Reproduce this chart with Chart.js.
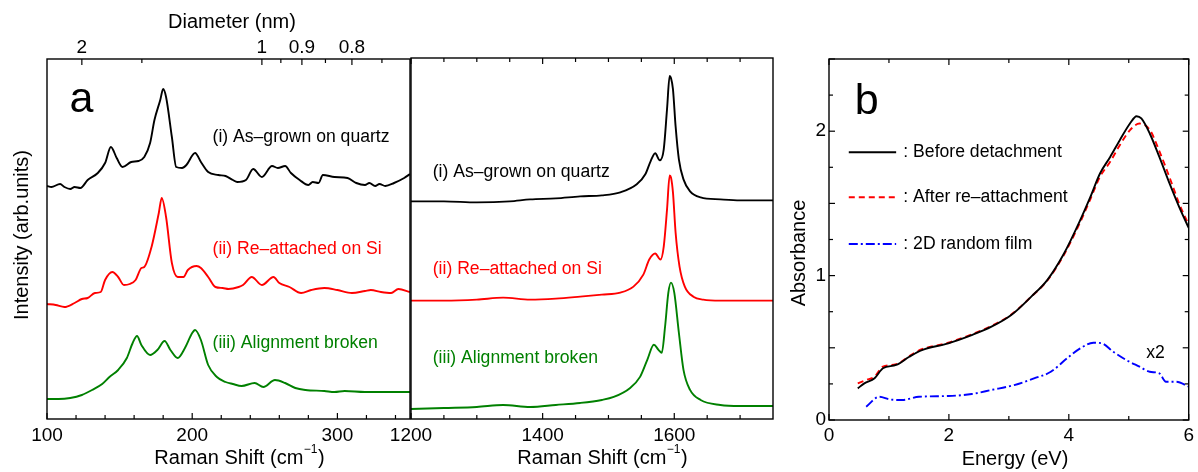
<!DOCTYPE html>
<html>
<head>
<meta charset="utf-8">
<script src="https://cdn.jsdelivr.net/npm/chart.js@4.4.1/dist/chart.umd.min.js"></script>
<style>
  html, body { margin: 0; padding: 0; background: #fff; }
  #fig { position: relative; width: 1198px; height: 472px; overflow: hidden; }
  canvas { position: absolute; top: 0; }
</style>
</head>
<body>
<div id="fig">
  <canvas id="ramanLow" width="412" height="472" style="left:0"></canvas>
  <canvas id="ramanHigh" width="430" height="472" style="left:370px"></canvas>
  <canvas id="absorb" width="418" height="472" style="left:780px"></canvas>
</div>
<script>
const FONT = '"Liberation Sans", Arial, Helvetica, sans-serif';
const BLACK = '#000000', RED = '#ff0000', GREEN = '#008000', BLUE = '#0000ff';

// RBM region, Raman shift (cm-1) and intensity (arb. units)
const rbmShiftAsGrown = [100,103,109,112,116,119,123,128,135,140,144,148,152,158,163,167,171,174,178,180,182,186,189,193,196,202,206,211,218,223,228,231,237,242,248,255,259,264,268,274,280,283,287,290,298,307,313,319,322,326,329,333,339,346,350];
const rbmAsGrown      = [233,232,235,232,230,232,231,239,246,256,272,261,252,257,258,262,276,299,319,330,322,282,252,251,254,266,257,247,244,243,239,237,239,250,242,253,251,253,246,239,234,237,236,244,242,241,236,234,236,233,235,233,236,241,245,241];

const rbmShiftReattached = [100,106,112,119,124,128,133,137,140,145,149,153,157,161,165,167,172,177,179,182,186,190,194,197,203,206,211,216,221,225,232,235,241,248,256,260,267,275,282,291,300,310,319,323,330,337,342,350];
const rbmReattached      = [115,114,112,116,120,121,126,127,139,147,142,134,135,139,151,152,172,206,221,202,156,142,142,149,153,151,142,132,131,130,132,134,142,134,142,136,132,126,129,131,129,126,128,129,127,126,130,127];

const rbmShiftBroken = [100,108,116,124,131,138,143,149,155,159,162,165,171,176,181,185,190,195,200,202,206,211,217,223,228,234,243,249,257,264,271,278,291,298,305,319,333,350];
const rbmBroken      = [20,20,21,24,29,35,42,49,61,76,83,74,64,69,78,69,61,71,86,89,79,54,42,37,35,33,36,32,39,36,31,29,28,27,28,27,27,27];

// G band region
const gShiftAsGrown = [1200,1250,1300,1350,1381,1420,1457,1490,1518,1543,1556,1564,1571,1578,1584,1589,1593,1595,1598,1602,1607,1614,1624,1640,1670,1700,1750];
const gAsGrown      = [217,217,216,217,219,220,222,223,226,234,244,257,265,258,269,309,342,340,329,292,259,239,227,221,219,218,218];

const gShiftReattached = [1200,1250,1300,1340,1381,1420,1457,1490,1518,1538,1553,1562,1571,1579,1584,1589,1593,1595,1598,1602,1608,1616,1629,1644,1670,1700,1750];
const gReattached      = [118,118,119,121,119,120,122,124,126,132,144,159,165,159,172,209,243,241,226,186,152,132,122,119,118,118,118];

const gShiftBroken = [1200,1250,1300,1340,1381,1420,1457,1490,1508,1533,1548,1559,1569,1576,1581,1586,1591,1595,1600,1607,1614,1624,1640,1670,1700,1750];
const gBroken      = [10,11,12,14,12,14,16,19,22,31,42,59,74,69,66,92,126,136,126,86,49,29,19,14,13,13];

// Absorbance spectra, energy (eV)
const energyBefore = [0.48,0.59,0.76,0.90,1.12,1.34,1.55,1.99,2.38,2.71,3.04,3.37,3.64,3.92,4.19,4.36,4.52,4.69,4.85,5.02,5.13,5.21,5.35,5.51,5.68,5.84,6.0];
const absBefore    = [0.219,0.254,0.289,0.358,0.381,0.438,0.484,0.531,0.588,0.646,0.727,0.853,0.969,1.153,1.384,1.545,1.707,1.822,1.938,2.053,2.104,2.088,1.984,1.822,1.638,1.476,1.33];

const energyAfter = [0.48,0.62,0.76,0.90,1.12,1.34,1.55,1.99,2.38,2.71,3.04,3.37,3.64,3.92,4.19,4.36,4.52,4.69,4.85,5.02,5.18,5.35,5.51,5.68,5.84,6.0];
const absAfter    = [0.254,0.277,0.30,0.37,0.386,0.443,0.49,0.535,0.593,0.651,0.73,0.853,0.965,1.145,1.37,1.53,1.684,1.788,1.903,2.007,2.053,2.01,1.862,1.68,1.50,1.35];

const energyRandom = [0.62,0.84,1.01,1.22,1.50,1.99,2.38,2.71,3.09,3.42,3.70,3.97,4.19,4.41,4.55,4.74,4.96,5.18,5.35,5.51,5.62,5.79,6.0];
const absRandom    = [0.092,0.161,0.143,0.138,0.161,0.166,0.180,0.208,0.242,0.288,0.334,0.427,0.496,0.535,0.531,0.473,0.415,0.369,0.334,0.323,0.265,0.265,0.231];

// Tick values
const rbmMajor = [100, 200, 300];
const rbmMinor = [120,140,160,180,220,240,260,280,320,340];
const gMajor = [1200, 1400, 1600];
const gMinor = [1250,1300,1350,1450,1500,1550,1650,1700];
const diameterMajor = [2, 1, 0.9, 0.8];
const diameterMinor = [1.5, 0.95, 0.85, 0.75];
const RBM_CONST = 248; // omega (cm-1) = 248 / d (nm)
const energyMajor = [0, 2, 4, 6];
const energyMinor = [1, 3, 5];
const absMajor = [0, 1, 2];
const absTicks = [0.5, 1.5, 2.5];
const absMinor = [0.25, 0.75, 1.25, 1.75, 2.25];

const tickFont = { family: FONT, size: 19 };

function pts(xs, ys) { return xs.map((x, i) => ({ x, y: ys[i] })); }

function series(xs, ys, color, extra) {
  return Object.assign({
    data: pts(xs, ys), borderColor: color, borderWidth: 1.9, pointRadius: 0,
    fill: false, tension: 0.3, cubicInterpolationMode: 'monotone'
  }, extra || {});
}

function axisX(min, max, labelTicks, height, padding, position, labelFn) {
  return {
    type: 'linear', position: position || 'bottom', min, max,
    grid: { display: false, drawTicks: false },
    border: { display: false },
    ticks: { font: tickFont, color: BLACK, padding, autoSkip: false, maxRotation: 0,
             callback: labelFn || (v => String(v)) },
    afterBuildTicks: s => { s.ticks = labelTicks.map(v => ({ value: v })); },
    afterFit: s => { s.height = height; }
  };
}

function axisY(min, max, width, labelTicks, padding) {
  const ax = {
    type: 'linear', min, max,
    grid: { display: false, drawTicks: false },
    border: { display: false },
    ticks: labelTicks ? { font: tickFont, color: BLACK, padding, autoSkip: false } : { display: false },
    afterFit: s => { s.width = width; }
  };
  if (labelTicks) ax.afterBuildTicks = s => { s.ticks = labelTicks.map(v => ({ value: v })); };
  return ax;
}

// frame around the plot area plus inward tick marks
const framePlugin = {
  id: 'frame',
  afterDatasetsDraw(chart, args, opts) {
    const { ctx, chartArea: a, scales } = chart;
    ctx.save();
    ctx.strokeStyle = BLACK;
    ctx.lineWidth = 1.4;
    ctx.strokeRect(a.left, a.top, a.right - a.left, a.bottom - a.top);
    ctx.lineWidth = 1.2;
    const draw = (side, values, len) => {
      (values || []).forEach(v => {
        ctx.beginPath();
        if (side === 'bottom' || side === 'top') {
          const px = scales.x.getPixelForValue(v);
          const y0 = side === 'bottom' ? a.bottom : a.top;
          ctx.moveTo(px, y0);
          ctx.lineTo(px, side === 'bottom' ? y0 - len : y0 + len);
        } else {
          const py = scales.y.getPixelForValue(v);
          const x0 = side === 'left' ? a.left : a.right;
          ctx.moveTo(x0, py);
          ctx.lineTo(side === 'left' ? x0 + len : x0 - len, py);
        }
        ctx.stroke();
      });
    };
    ['bottom', 'top', 'left', 'right'].forEach(side => {
      const t = opts[side];
      if (!t) return;
      draw(side, t.major, 6);
      draw(side, t.minor, 4);
    });
    ctx.restore();
  }
};

// titles (canvas pixels) and annotations (data coordinates)
const textPlugin = {
  id: 'texts',
  afterDraw(chart, args, opts) {
    const { ctx, scales } = chart;
    ctx.save();
    (opts.titles || []).forEach(t => {
      ctx.save();
      ctx.fillStyle = BLACK;
      ctx.textBaseline = 'middle';
      ctx.translate(t.x, t.y);
      if (t.rotate) ctx.rotate(t.rotate);
      ctx.font = `${t.size}px ${FONT}`;
      const w1 = ctx.measureText(t.text).width;
      let w2 = 0, w3 = 0;
      if (t.sup) {
        w3 = ctx.measureText(t.after).width;
        ctx.font = `${t.supSize}px ${FONT}`;
        w2 = ctx.measureText(t.sup).width;
      }
      let x = -(w1 + w2 + w3) / 2;
      ctx.textAlign = 'left';
      ctx.font = `${t.size}px ${FONT}`;
      ctx.fillText(t.text, x, 0);
      if (t.sup) {
        x += w1;
        ctx.font = `${t.supSize}px ${FONT}`;
        ctx.fillText(t.sup, x + 0.5, -t.size * 0.42);
        x += w2 + 1;
        ctx.font = `${t.size}px ${FONT}`;
        ctx.fillText(t.after, x, 0);
      }
      ctx.restore();
    });
    (opts.labels || []).forEach(l => {
      ctx.fillStyle = l.color || BLACK;
      ctx.font = `${l.size}px ${FONT}`;
      ctx.textAlign = 'left';
      ctx.textBaseline = l.baseline || 'middle';
      ctx.fillText(l.text, scales.x.getPixelForValue(l.x), scales.y.getPixelForValue(l.y));
    });
    (opts.legend || []).forEach(g => {
      const y = scales.y.getPixelForValue(g.y);
      ctx.strokeStyle = g.color;
      ctx.lineWidth = 2;
      ctx.setLineDash(g.dash || []);
      ctx.beginPath();
      ctx.moveTo(scales.x.getPixelForValue(g.x0), y);
      ctx.lineTo(scales.x.getPixelForValue(g.x1), y);
      ctx.stroke();
      ctx.setLineDash([]);
      ctx.fillStyle = BLACK;
      ctx.font = `${g.size}px ${FONT}`;
      ctx.textAlign = 'left';
      ctx.textBaseline = 'middle';
      ctx.fillText(g.text, scales.x.getPixelForValue(g.tx), y);
    });
    ctx.restore();
  }
};

const common = {
  responsive: false,
  animation: false,
  events: [],
  elements: { point: { radius: 0 } }
};

// Panel a, RBM region
new Chart(document.getElementById('ramanLow'), {
  type: 'line',
  data: { datasets: [
    series(rbmShiftAsGrown, rbmAsGrown, BLACK),
    series(rbmShiftReattached, rbmReattached, RED),
    series(rbmShiftBroken, rbmBroken, GREEN)
  ] },
  options: Object.assign({}, common, {
    layout: { padding: { top: 0, right: 2, bottom: 0, left: 0 } },
    scales: {
      x: axisX(100, 350, rbmMajor, 53, 5),
      xTop: axisX(100, 350, diameterMajor.map(d => RBM_CONST / d), 59, 0, 'top',
                  (v, i) => String(diameterMajor[i])),
      y: axisY(0, 360, 47)
    },
    plugins: {
      legend: { display: false }, tooltip: { enabled: false },
      frame: {
        bottom: { major: rbmMajor, minor: rbmMinor },
        top: { major: diameterMajor.map(d => RBM_CONST / d), minor: diameterMinor.map(d => RBM_CONST / d) }
      },
      texts: {
        titles: [
          { text: 'Diameter (nm)', x: 232, y: 22, size: 20 },
          { text: 'Intensity (arb.units)', x: 22, y: 235, size: 20, rotate: -Math.PI / 2 },
          { text: 'Raman Shift (cm', sup: '\u22121', after: ')', supSize: 12, x: 239, y: 458, size: 20 }
        ],
        labels: [
          { text: 'a', x: 115.5, y: 307, size: 43, baseline: 'alphabetic' },
          { text: '(i) As\u2013grown on quartz', x: 214, y: 282, size: 17.6, color: BLACK },
          { text: '(ii) Re\u2013attached on Si', x: 214, y: 170, size: 17.6, color: RED },
          { text: '(iii) Alignment broken', x: 214, y: 76, size: 17.6, color: GREEN }
        ]
      }
    }
  }),
  plugins: [framePlugin, textPlugin]
});

// Panel a, G band region
new Chart(document.getElementById('ramanHigh'), {
  type: 'line',
  data: { datasets: [
    series(gShiftAsGrown, gAsGrown, BLACK),
    series(gShiftReattached, gReattached, RED),
    series(gShiftBroken, gBroken, GREEN)
  ] },
  options: Object.assign({}, common, {
    layout: { padding: { top: 58, right: 27, bottom: 0, left: 0 } },
    scales: {
      x: axisX(1200, 1750, gMajor, 53, 5),
      y: axisY(0, 360, 41)
    },
    plugins: {
      legend: { display: false }, tooltip: { enabled: false },
      frame: {
        bottom: { major: gMajor, minor: gMinor },
        top: { major: gMajor, minor: gMinor }
      },
      texts: {
        titles: [
          { text: 'Raman Shift (cm', sup: '\u22121', after: ')', supSize: 12, x: 232, y: 458, size: 20 }
        ],
        labels: [
          { text: '(i) As\u2013grown on quartz', x: 1233, y: 246, size: 17.6, color: BLACK },
          { text: '(ii) Re\u2013attached on Si', x: 1233, y: 149, size: 17.6, color: RED },
          { text: '(iii) Alignment broken', x: 1233, y: 61, size: 17.6, color: GREEN }
        ]
      }
    }
  }),
  plugins: [framePlugin, textPlugin]
});

// Panel b, absorbance
new Chart(document.getElementById('absorb'), {
  type: 'line',
  data: { datasets: [
    series(energyBefore, absBefore, BLACK),
    series(energyAfter, absAfter, RED, { borderDash: [6, 4] }),
    series(energyRandom, absRandom, BLUE, { borderDash: [9, 3, 2, 3] })
  ] },
  options: Object.assign({}, common, {
    layout: { padding: { top: 59, right: 5, bottom: 0, left: 0 } },
    scales: {
      x: axisX(0, 6, energyMajor, 52, 4),
      y: axisY(0, 2.5, 49, absMajor, 3)
    },
    plugins: {
      legend: { display: false }, tooltip: { enabled: false },
      frame: {
        bottom: { major: energyMajor, minor: energyMinor },
        top: { major: energyMajor, minor: energyMinor },
        left: { major: absMajor.concat(absTicks), minor: absMinor },
        right: { major: absMajor.concat(absTicks), minor: absMinor }
      },
      texts: {
        titles: [
          { text: 'Absorbance', x: 19, y: 253, size: 20, rotate: -Math.PI / 2 },
          { text: 'Energy (eV)', x: 235, y: 459, size: 20 }
        ],
        labels: [
          { text: 'b', x: 0.43, y: 2.118, size: 43, baseline: 'alphabetic' },
          { text: 'x2', x: 5.29, y: 0.464, size: 17.6 }
        ],
        legend: [
          { text: ': Before detachment', color: BLACK, x0: 0.33, x1: 1.12, tx: 1.24, y: 1.855, size: 17.6 },
          { text: ': After re\u2013attachment', color: RED, dash: [6, 4], x0: 0.33, x1: 1.12, tx: 1.24, y: 1.543, size: 17.6 },
          { text: ': 2D random film', color: BLUE, dash: [9, 3, 2, 3], x0: 0.33, x1: 1.12, tx: 1.24, y: 1.218, size: 17.6 }
        ]
      }
    }
  }),
  plugins: [framePlugin, textPlugin]
});
</script>
</body>
</html>
